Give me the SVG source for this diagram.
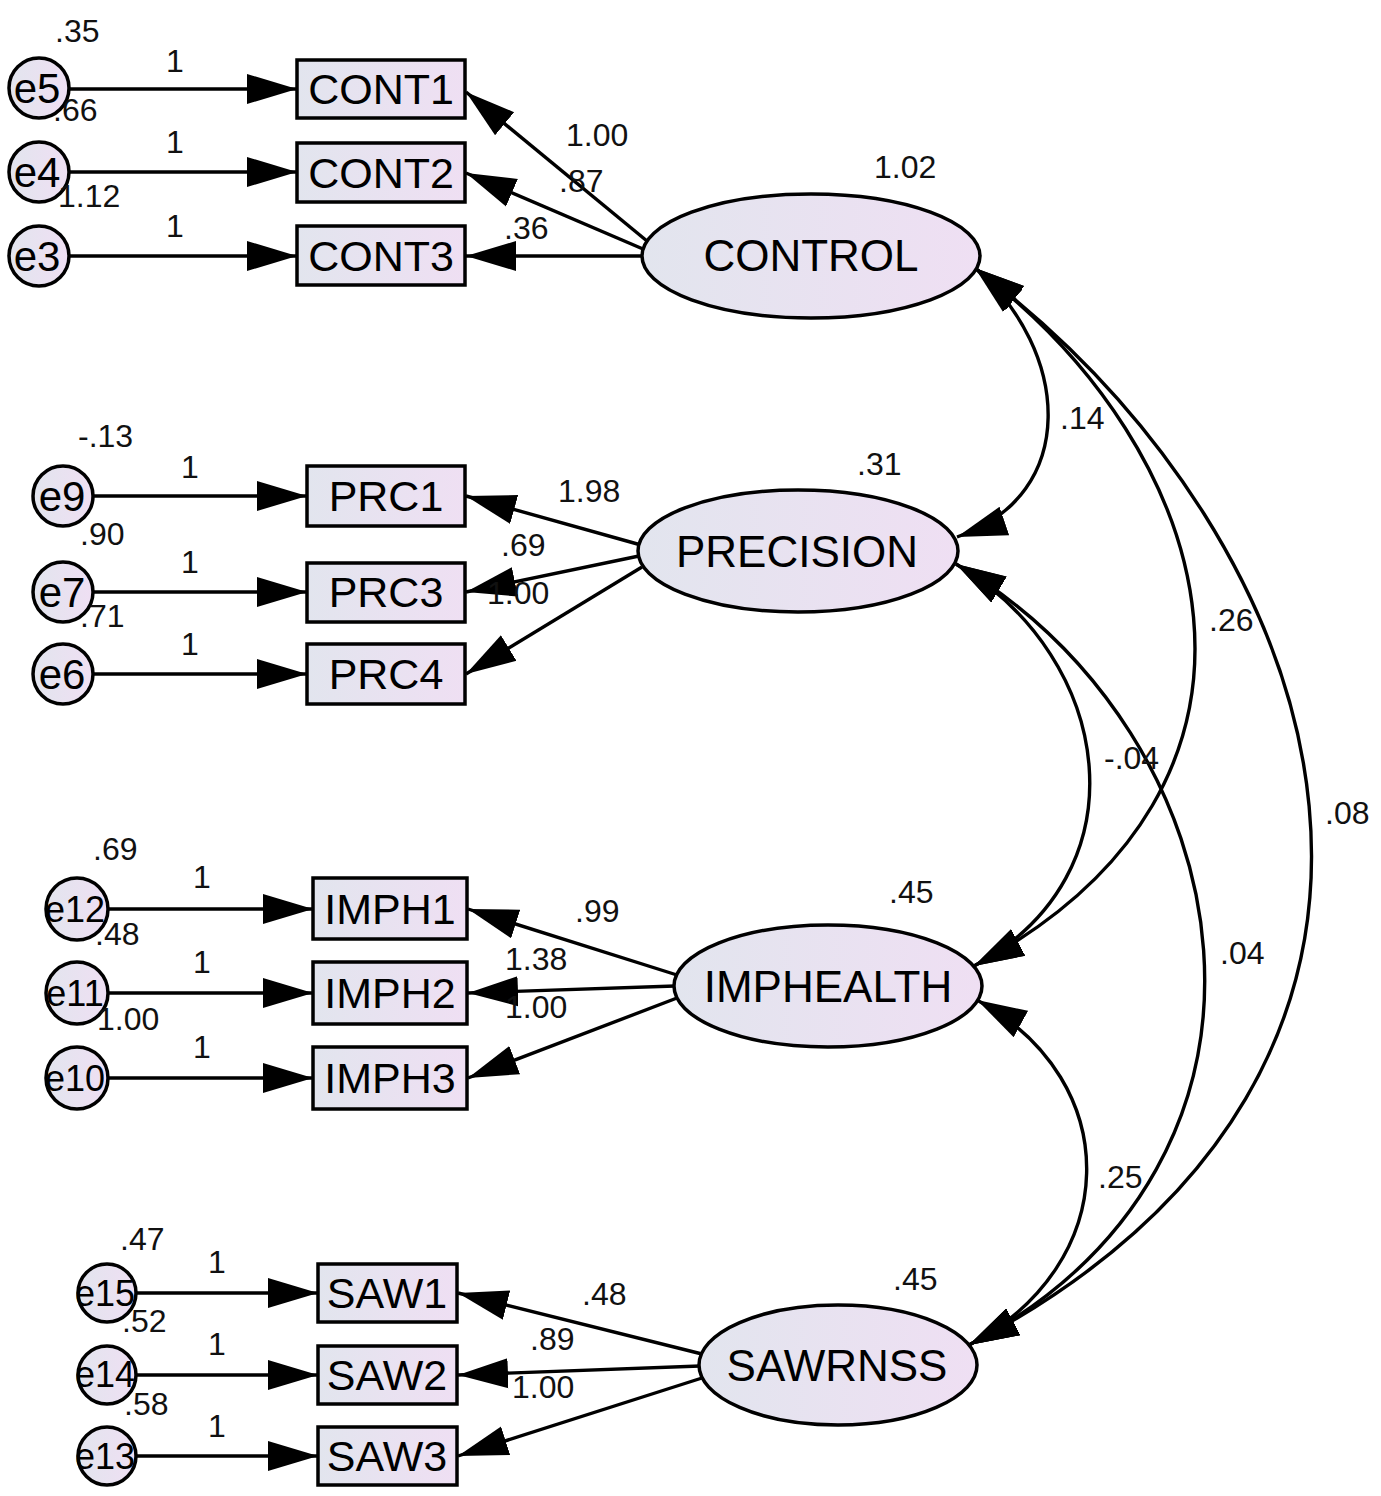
<svg xmlns="http://www.w3.org/2000/svg" width="1381" height="1496" viewBox="0 0 1381 1496">
<defs>
<linearGradient id="gl" x1="0" y1="0" x2="1" y2="0">
<stop offset="0" stop-color="#e2e5ee"/>
<stop offset="1" stop-color="#efdff3"/>
</linearGradient>
<marker id="ah" markerUnits="userSpaceOnUse" markerWidth="52" markerHeight="32" refX="50" refY="16" orient="auto-start-reverse">
<path d="M0,1 L50,16 L0,31 z" fill="#000"/>
</marker>
<style>
.lat{fill:url(#gl);stroke:#000;stroke-width:3.5}
.obs{fill:url(#gl);stroke:#000;stroke-width:3.5}
.err{fill:url(#gl);stroke:#000;stroke-width:3.5}
.t{font-family:"Liberation Sans",Arial,sans-serif;font-size:44px;fill:#000;text-anchor:middle}
.ti{font-family:"Liberation Sans",Arial,sans-serif;font-size:43px;fill:#000;text-anchor:middle}
.te{font-family:"Liberation Sans",Arial,sans-serif;font-size:42px;fill:#000;text-anchor:middle}
.te2{font-family:"Liberation Sans",Arial,sans-serif;font-size:36px;fill:#000;text-anchor:middle}
.n{font-family:"Liberation Sans",Arial,sans-serif;font-size:32px;fill:#111}
.nm{font-family:"Liberation Sans",Arial,sans-serif;font-size:32px;fill:#111;text-anchor:middle}
.c{fill:none;stroke:#000;stroke-width:3.4;marker-end:url(#ah)}
.cc{fill:none;stroke:#000;stroke-width:3.4;marker-start:url(#ah);marker-end:url(#ah)}
</style>
</defs>
<rect width="1381" height="1496" fill="#fff"/>

<g id="connectors">
<line class="c" x1="68" y1="89" x2="297" y2="89"/>
<line class="c" x1="68" y1="172" x2="297" y2="172"/>
<line class="c" x1="68" y1="256" x2="297" y2="256"/>
<line class="c" x1="93" y1="496" x2="307" y2="496"/>
<line class="c" x1="93" y1="592" x2="307" y2="592"/>
<line class="c" x1="93" y1="674" x2="307" y2="674"/>
<line class="c" x1="108" y1="909" x2="313" y2="909"/>
<line class="c" x1="108" y1="993" x2="313" y2="993"/>
<line class="c" x1="108" y1="1078" x2="313" y2="1078"/>
<line class="c" x1="135" y1="1293" x2="318" y2="1293"/>
<line class="c" x1="135" y1="1375" x2="318" y2="1375"/>
<line class="c" x1="135" y1="1456" x2="318" y2="1456"/>
<line class="c" x1="647" y1="241" x2="466" y2="92"/>
<line class="c" x1="643" y1="249" x2="466" y2="173"/>
<line class="c" x1="642" y1="256" x2="466" y2="256"/>
<line class="c" x1="641" y1="545" x2="466" y2="496"/>
<line class="c" x1="639" y1="556" x2="466" y2="592"/>
<line class="c" x1="642" y1="567" x2="466" y2="674"/>
<line class="c" x1="677" y1="975" x2="468" y2="909"/>
<line class="c" x1="675" y1="986" x2="468" y2="993"/>
<line class="c" x1="677" y1="998" x2="468" y2="1078"/>
<line class="c" x1="702" y1="1354" x2="458" y2="1293"/>
<line class="c" x1="700" y1="1366" x2="458" y2="1375"/>
<line class="c" x1="702" y1="1378" x2="458" y2="1456"/>
<path class="cc" d="M975,268 C1070,350 1081,495 957,537"/>
<path class="cc" d="M975,268 C1218,450 1315,784 974,966"/>
<path class="cc" d="M975,268 C1343,544 1500,1068 969,1345"/>
<path class="cc" d="M956,564 C1116,659 1145,875 974,966"/>
<path class="cc" d="M956,564 C1248,737 1320,1161 969,1345"/>
<path class="cc" d="M977,1000 C1127,1082 1122,1265 969,1345"/>
</g>

<g id="CONTROL"><ellipse class="lat" cx="811" cy="256" rx="169" ry="62"/><text class="t" x="811" y="271">CONTROL</text></g>
<g id="PRECISION"><ellipse class="lat" cx="798" cy="551" rx="160" ry="61"/><text class="t" x="797" y="567">PRECISION</text></g>
<g id="IMPHEALTH"><ellipse class="lat" cx="828" cy="986" rx="154" ry="61"/><text class="t" x="828" y="1002">IMPHEALTH</text></g>
<g id="SAWRNSS"><ellipse class="lat" cx="838" cy="1365" rx="139" ry="60"/><text class="t" x="837" y="1381">SAWRNSS</text></g>

<g id="CONT1"><rect class="obs" x="297" y="60" width="168" height="58"/><text class="ti" x="381" y="104">CONT1</text></g>
<g id="CONT2"><rect class="obs" x="297" y="143" width="168" height="59"/><text class="ti" x="381" y="188">CONT2</text></g>
<g id="CONT3"><rect class="obs" x="297" y="226" width="168" height="59"/><text class="ti" x="381" y="271">CONT3</text></g>
<g id="PRC1"><rect class="obs" x="307" y="466" width="158" height="60"/><text class="ti" x="386" y="511">PRC1</text></g>
<g id="PRC3"><rect class="obs" x="307" y="563" width="158" height="59"/><text class="ti" x="386" y="607">PRC3</text></g>
<g id="PRC4"><rect class="obs" x="307" y="644" width="158" height="60"/><text class="ti" x="386" y="689">PRC4</text></g>
<g id="IMPH1"><rect class="obs" x="313" y="878" width="154" height="61"/><text class="ti" x="390" y="924">IMPH1</text></g>
<g id="IMPH2"><rect class="obs" x="313" y="962" width="154" height="62"/><text class="ti" x="390" y="1008">IMPH2</text></g>
<g id="IMPH3"><rect class="obs" x="313" y="1047" width="154" height="62"/><text class="ti" x="390" y="1093">IMPH3</text></g>
<g id="SAW1"><rect class="obs" x="318" y="1264" width="139" height="58"/><text class="ti" x="387" y="1308">SAW1</text></g>
<g id="SAW2"><rect class="obs" x="318" y="1346" width="139" height="58"/><text class="ti" x="387" y="1390">SAW2</text></g>
<g id="SAW3"><rect class="obs" x="318" y="1427" width="139" height="58"/><text class="ti" x="387" y="1471">SAW3</text></g>

<g id="e5"><circle class="err" cx="39" cy="88" r="30"/><text class="te" x="37" y="103">e5</text></g>
<g id="e4"><circle class="err" cx="39" cy="172" r="30"/><text class="te" x="37" y="187">e4</text></g>
<g id="e3"><circle class="err" cx="39" cy="256" r="30"/><text class="te" x="37" y="271">e3</text></g>
<g id="e9"><circle class="err" cx="63" cy="496" r="30"/><text class="te" x="62" y="511">e9</text></g>
<g id="e7"><circle class="err" cx="63" cy="592" r="30"/><text class="te" x="62" y="607">e7</text></g>
<g id="e6"><circle class="err" cx="63" cy="674" r="30"/><text class="te" x="62" y="689">e6</text></g>
<g id="e12"><circle class="err" cx="77" cy="909" r="31"/><text class="te2" x="75" y="922">e12</text></g>
<g id="e11"><circle class="err" cx="77" cy="993" r="31"/><text class="te2" x="75" y="1006">e11</text></g>
<g id="e10"><circle class="err" cx="77" cy="1078" r="31"/><text class="te2" x="75" y="1091">e10</text></g>
<g id="e15"><circle class="err" cx="107" cy="1293" r="29"/><text class="te2" x="105" y="1306">e15</text></g>
<g id="e14"><circle class="err" cx="107" cy="1375" r="29"/><text class="te2" x="105" y="1387">e14</text></g>
<g id="e13"><circle class="err" cx="107" cy="1456" r="29"/><text class="te2" x="105" y="1469">e13</text></g>

<g id="labels">
<text class="n" x="55" y="42">.35</text>
<text class="nm" x="175" y="72">1</text>
<text class="n" x="53" y="121">.66</text>
<text class="nm" x="175" y="153">1</text>
<text class="n" x="58" y="207">1.12</text>
<text class="nm" x="175" y="237">1</text>
<text class="n" x="566" y="146">1.00</text>
<text class="n" x="559" y="192">.87</text>
<text class="n" x="504" y="239">.36</text>
<text class="n" x="874" y="178">1.02</text>

<text class="n" x="78" y="447">-.13</text>
<text class="nm" x="190" y="478">1</text>
<text class="n" x="80" y="545">.90</text>
<text class="nm" x="190" y="573">1</text>
<text class="n" x="80" y="627">.71</text>
<text class="nm" x="190" y="655">1</text>
<text class="n" x="558" y="502">1.98</text>
<text class="n" x="501" y="556">.69</text>
<text class="n" x="487" y="604">1.00</text>
<text class="n" x="857" y="475">.31</text>

<text class="n" x="93" y="860">.69</text>
<text class="nm" x="202" y="888">1</text>
<text class="n" x="95" y="945">.48</text>
<text class="nm" x="202" y="973">1</text>
<text class="n" x="97" y="1030">1.00</text>
<text class="nm" x="202" y="1058">1</text>
<text class="n" x="575" y="922">.99</text>
<text class="n" x="505" y="970">1.38</text>
<text class="n" x="505" y="1018">1.00</text>
<text class="n" x="889" y="903">.45</text>

<text class="n" x="120" y="1250">.47</text>
<text class="nm" x="217" y="1273">1</text>
<text class="n" x="122" y="1332">.52</text>
<text class="nm" x="217" y="1355">1</text>
<text class="n" x="124" y="1415">.58</text>
<text class="nm" x="217" y="1437">1</text>
<text class="n" x="582" y="1305">.48</text>
<text class="n" x="530" y="1350">.89</text>
<text class="n" x="512" y="1398">1.00</text>
<text class="n" x="893" y="1290">.45</text>

<text class="n" x="1060" y="429">.14</text>
<text class="n" x="1209" y="631">.26</text>
<text class="n" x="1104" y="769">-.04</text>
<text class="n" x="1325" y="824">.08</text>
<text class="n" x="1220" y="964">.04</text>
<text class="n" x="1098" y="1188">.25</text>
</g>
</svg>
